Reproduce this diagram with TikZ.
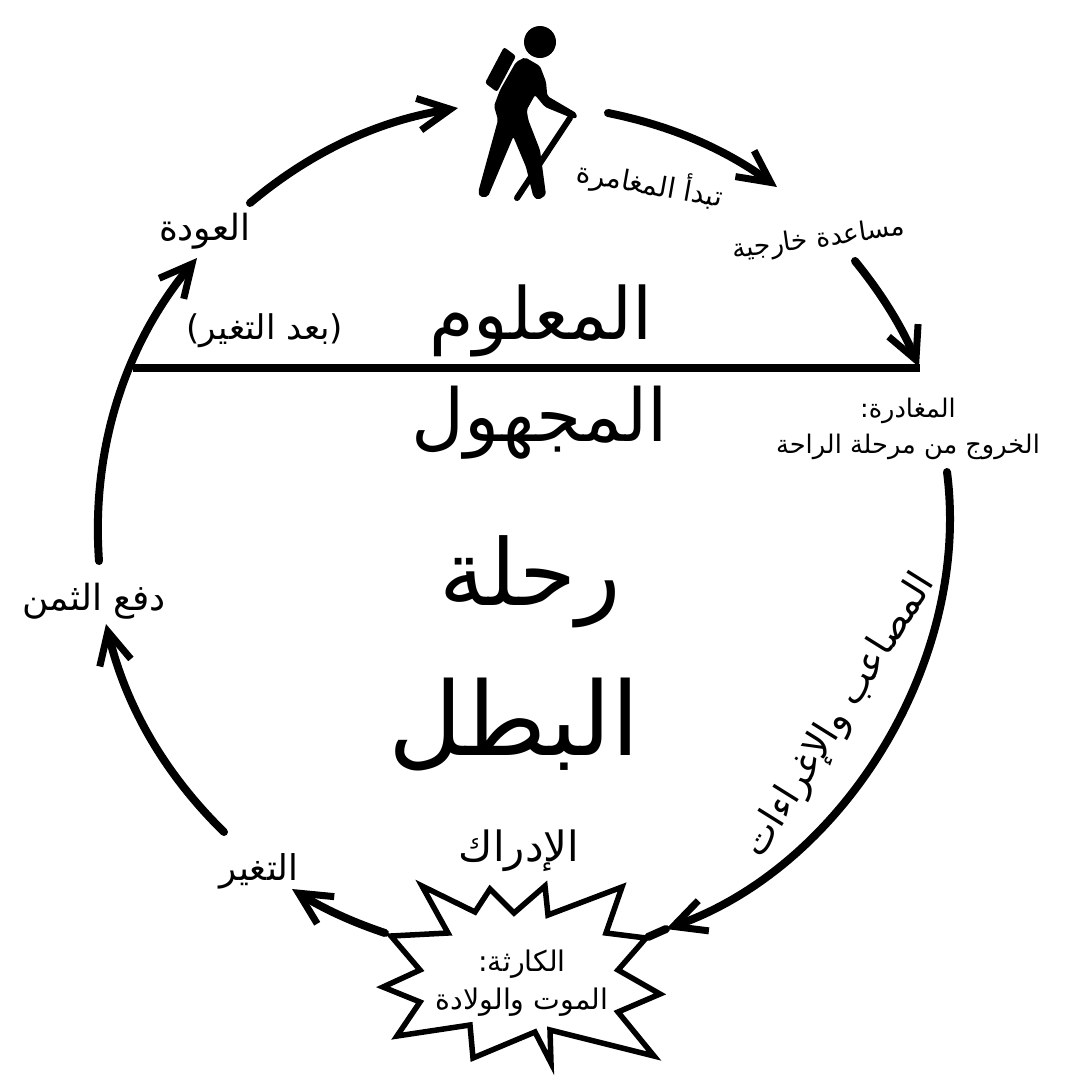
\documentclass[tikz,border=0pt]{standalone}
\usepackage{fontspec}
\usetikzlibrary{arrows.meta,positioning,calc}
\TeXXeTstate=1
\newfontfamily\arabicfont[Script=Arabic]{DejaVu Sans}
\newcommand{\ar}[1]{{\arabicfont\beginR #1\endR}}
\newcommand{\fs}[2]{\fontsize{#1}{#2}\selectfont}
\tikzset{
  arc line/.style={line width=8pt,looseness=0.9,-{Straight Barb[length=32pt,width=32pt,line width=7pt]}},
  lbl/.style={inner sep=0pt,align=center}
}
\begin{document}
\begin{tikzpicture}[x=1pt,y=-1pt,line cap=round,line join=miter]
    \useasboundingbox (0,0) rectangle (1080,1080);
    \fill[white] (0,0) rectangle (1080,1080);
    % labels
    \node[lbl,font=\fs{36}{42}] (ret) at (205,231) {\ar{العودة}};
    \node[lbl,font=\fs{28}{34},rotate=-10] (start) at (650,184) {\ar{تبدأ المغامرة}};
    \node[lbl,font=\fs{26.5}{32},rotate=8] (aid) at (819,240) {\ar{مساعدة خارجية}};
    \node[lbl,font=\fs{34}{40}] (after) at (265,331) {\ar{(بعد التغير)}};
    \node[lbl,font=\fs{72}{80}] (known) at (541,321) {\ar{المعلوم}};
    \node[lbl,font=\fs{73}{80}] (unknown) at (540,423) {\ar{المجهول}};
    \node[lbl,font=\fs{25.6}{36}] (leave) at (908,429) {\ar{المغادرة:}\\ \ar{الخروج من مرحلة الراحة}};
    \node[lbl,font=\fs{92}{100}] (hero1) at (530,582) {\ar{رحلة}};
    \node[lbl,font=\fs{102}{110}] (hero2) at (514,725) {\ar{البطل}};
    \node[lbl,font=\fs{36}{42}] (pay) at (94,601) {\ar{دفع الثمن}};
    \node[lbl,font=\fs{38}{44},rotate=58] (trial) at (840,716) {\ar{المصاعب والإغراءات}};
    \node[lbl,font=\fs{35.5}{42}] (change) at (259,871) {\ar{التغير}};
    % burst
    \draw[line width=5.5pt,fill=white,miter limit=20] (422,886) -- (475,912) -- (490,889) -- (514,913) -- (545,886) -- (548,915) -- (622,887) -- (606,933) -- (646,938) -- (618,970) -- (660,994) -- (618,1012) -- (654,1056) -- (550,1030) -- (551,1063) -- (535,1032) -- (473,1058) -- (470,1025) -- (397,1036) -- (420,1002) -- (383,987) -- (420,970) -- (391,936) -- (448,933) -- cycle;
    \node[lbl,font=\fs{28.4}{38}] (death) at (522,983) {\ar{الكارثة:}\\ \ar{الموت والولادة}};
    \node[lbl,font=\fs{41.7}{48}] (real) at (519,851) {\ar{الإدراك}};
    % horizon
    \draw[line width=8pt,line cap=butt] (133,368) -- (920,368);
    \coordinate (a1) at (250,203);
    \coordinate (a2) at (458,108);
    \coordinate (b1) at (608,113);
    \coordinate (b2) at (777,187);
    \coordinate (c1) at (855,261);
    \coordinate (c2) at (919,367);
    \coordinate (d1) at (947,472);
    \coordinate (d2) at (666,929);
    \coordinate (d3) at (648,937);
    \coordinate (e1) at (385,933);
    \coordinate (e2) at (292,889);
    \coordinate (f1) at (224,832);
    \coordinate (f2) at (106,624);
    \coordinate (g1) at (99,561);
    \coordinate (g2) at (197,258);
    % arcs
    \draw[arc line] (a1) to[bend left=15.5] (a2);
    \draw[arc line] (b1) to[bend left=12.3] (b2);
    \draw[arc line] (c1) to[bend left=8] (c2);
    \draw[arc line] (d1) to[bend left=39] (d2);
    \draw[line width=8pt] (d2) -- (d3);
    \draw[arc line] (e1) to[bend left=6.8] (e2);
    \draw[arc line] (f1) to[bend left=16] (f2);
    \draw[arc line] (g1) to[bend left=22] (g2);
    % hiker
    \fill (540,42) circle (16);
    \fill[rounded corners=2.5pt] (504,47) -- (516,56) -- (497,92) -- (485,83) -- cycle;
    \fill[rounded corners=2pt] (525,57.3) -- (540,66) -- (546,81.7) -- (547.3,96) -- (576.7,113.3) -- (576.7,118.3) -- (571.7,118) -- (545,107) -- (535,95) -- (526.7,110) -- (528.3,120) -- (540,150) -- (546,195) -- (538.3,200) -- (533.3,196.7) -- (526,167) -- (513.3,136.7) -- (488,196.7) -- (480,197) -- (478.3,191.7) -- (498,120) -- (494,106) -- (500,90) -- (516,62) -- cycle;
    \draw[line width=6pt] (570,118) -- (517,198);
\end{tikzpicture}
\end{document}
